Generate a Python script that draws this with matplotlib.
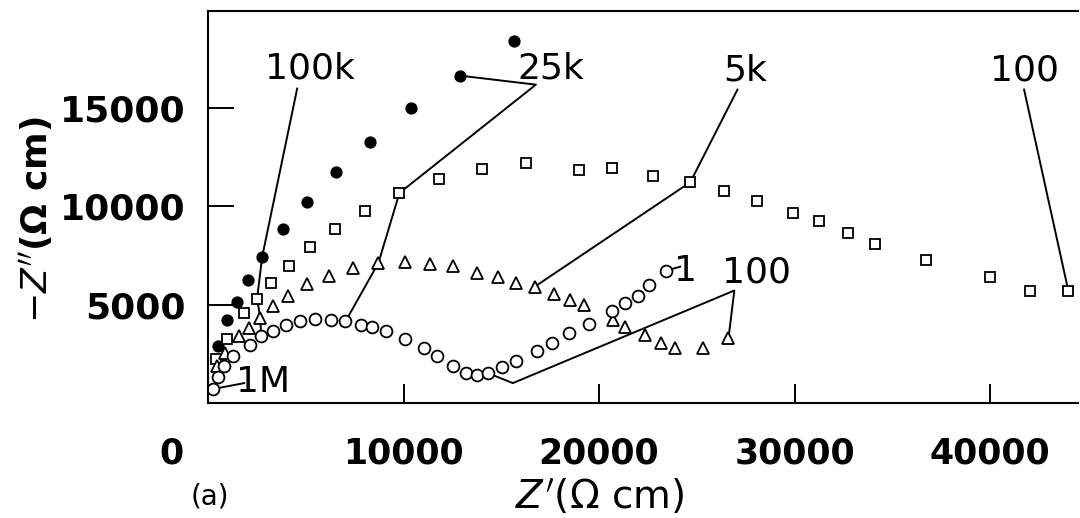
import matplotlib
matplotlib.use('Agg')
import matplotlib.pyplot as plt
import matplotlib.transforms as mtransforms

plt.rcParams['font.family'] = ['DejaVu Sans']
plt.rcParams['mathtext.fontset'] = 'dejavusans'

# impedance data, Z' and -Z'' in ohm cm
dots_x = [15640, 12870, 10360, 8260, 6560, 5080, 3850, 2770, 2050, 1490, 970, 510]
dots_y = [18380, 16620, 14950, 13230, 11720, 10200, 8840, 7420, 6260, 5150, 4190, 2880]

sq_x = [410, 970, 1850, 2510, 3230, 4150, 5230, 6510, 8050, 9790, 11790, 14000,
        16260, 18970, 20670, 22770, 24670, 26410, 28100, 29900, 31230, 32720,
        34100, 36720, 40000, 42050, 44000]
sq_y = [2220, 3230, 4550, 5300, 6110, 6970, 7930, 8840, 9750, 10660, 11360, 11870,
        12170, 11820, 11920, 11520, 11210, 10760, 10250, 9650, 9240, 8640,
        8080, 7270, 6410, 5710, 5710]

tri_x = [460, 870, 1590, 2100, 2670, 3330, 4100, 5080, 6210, 7440, 8720, 10050,
         11330, 12510, 13740, 14820, 15740, 16720, 17690, 18510, 19230, 20720,
         21330, 22360, 23180, 23900, 25330, 26620]
tri_y = [1870, 2530, 3380, 3790, 4340, 4900, 5450, 6060, 6460, 6870, 7120, 7170,
         7070, 6970, 6620, 6410, 6110, 5910, 5510, 5250, 4950, 4190,
         3840, 3430, 3030, 2780, 2780, 3280]

circ_x = [260, 510, 820, 1280, 2150, 2720, 3330, 4000, 4720, 5490, 6310, 7030,
          7850, 8410, 9080, 10100, 11030, 11690, 12510, 13180, 13740, 14310,
          15030, 15740, 16820, 17590, 18460, 19490, 20670, 21330, 22000, 22560, 23440]
circ_y = [710, 1310, 1870, 2370, 2930, 3380, 3640, 3940, 4140, 4240, 4190, 4140,
          3940, 3840, 3640, 3230, 2780, 2370, 1870, 1520, 1410, 1520,
          1820, 2120, 2630, 3030, 3540, 3990, 4650, 5100, 5450, 6010, 6720]

# frequency labels: text, text position, start of leader line
labels = ['100k', '25k', '5k', '100', '100', '1', '1M']
label_xy = [(5230, 16970), (17540, 16970), (27490, 16870), (41740, 16870),
            (28050, 6620), (24410, 6720), (2820, 1060)]
leader_start = [(4560, 15960), (16770, 16160), (27080, 15910), (41740, 15910),
                (26920, 5710), (24150, 6920), (1850, 1010)]

fig = plt.figure(figsize=(10.8, 5.18), dpi=100)
ax = fig.add_axes([0.1926, 0.222, 0.8056, 0.7568])

ax.plot(dots_x, dots_y, 'o', color='black', markersize=7.8, linestyle='none')
ax.plot(sq_x, sq_y, 's', mfc='white', mec='black', mew=1.3, markersize=7, linestyle='none')
ax.plot(tri_x, tri_y, '^', mfc='white', mec='black', mew=1.3, markersize=8, linestyle='none')
ax.plot(circ_x, circ_y, 'o', mfc='white', mec='black', mew=1.3, markersize=8.5, linestyle='none')

# leader lines, each joins the label to points measured at that frequency
lw = 1.4
s = leader_start
# 100k
ax.plot([s[0][0], dots_x[7], sq_x[3], tri_x[4], circ_x[5]],
        [s[0][1], dots_y[7], sq_y[3], tri_y[4], circ_y[5]], color='black', lw=lw, zorder=1)
# 25k
ax.plot([dots_x[1], s[1][0], sq_x[9], tri_x[10], circ_x[11]],
        [dots_y[1], s[1][1], sq_y[9], tri_y[10], circ_y[11]], color='black', lw=lw, zorder=1)
# 5k
ax.plot([s[2][0], sq_x[16], tri_x[17]],
        [s[2][1], sq_y[16], tri_y[17]], color='black', lw=lw, zorder=1)
# 100 (right)
ax.plot([s[3][0], sq_x[-1]], [s[3][1], sq_y[-1]], color='black', lw=lw, zorder=1)
# 100 (middle)
ax.plot([tri_x[-1], s[4][0], 15590, circ_x[21]],
        [tri_y[-1], s[4][1], 1010, circ_y[21]], color='black', lw=lw, zorder=1)
# 1
ax.plot([circ_x[-1], s[5][0]], [circ_y[-1], s[5][1]], color='black', lw=lw, zorder=1)
# 1M
ax.plot([circ_x[0], s[6][0]], [circ_y[0], s[6][1]], color='black', lw=lw, zorder=1)

for txt, (lx, ly) in zip(labels, label_xy):
    ax.text(lx, ly, txt, fontsize=26, ha='center', va='center')

ax.set_xlim(0, 44500)
ax.set_ylim(0, 19900)
ax.set_xticks([0, 10000, 20000, 30000, 40000])
ax.set_yticks([5000, 10000, 15000])
ax.tick_params(axis='x', direction='in', length=14, width=1.4, pad=24, labelsize=25)
ax.tick_params(axis='y', direction='in', length=19, width=1.4, pad=16, labelsize=26)
for lab in ax.get_xticklabels() + ax.get_yticklabels():
    lab.set_fontweight('bold')
# the "0" label sits left of the y axis
shift = mtransforms.ScaledTranslation(-0.37, 0, fig.dpi_scale_trans)
ax.get_xticklabels()[0].set_transform(ax.get_xticklabels()[0].get_transform() + shift)

for side in ['top', 'left', 'bottom']:
    ax.spines[side].set_linewidth(1.5)
ax.spines['right'].set_visible(False)

fig.text(600 / 1080, 1 - 497 / 518, r"$Z'$(Ω cm)", fontsize=28, ha='center', va='center')
fig.text(210 / 1080, 1 - 496 / 518, '(a)', fontsize=20, ha='center', va='center')
fig.text(36 / 1080, 1 - 220 / 518, r"$-Z''$(Ω cm)", fontsize=26, fontweight='bold',
         rotation=90, ha='center', va='center')

fig.savefig('out.png', dpi=100)
